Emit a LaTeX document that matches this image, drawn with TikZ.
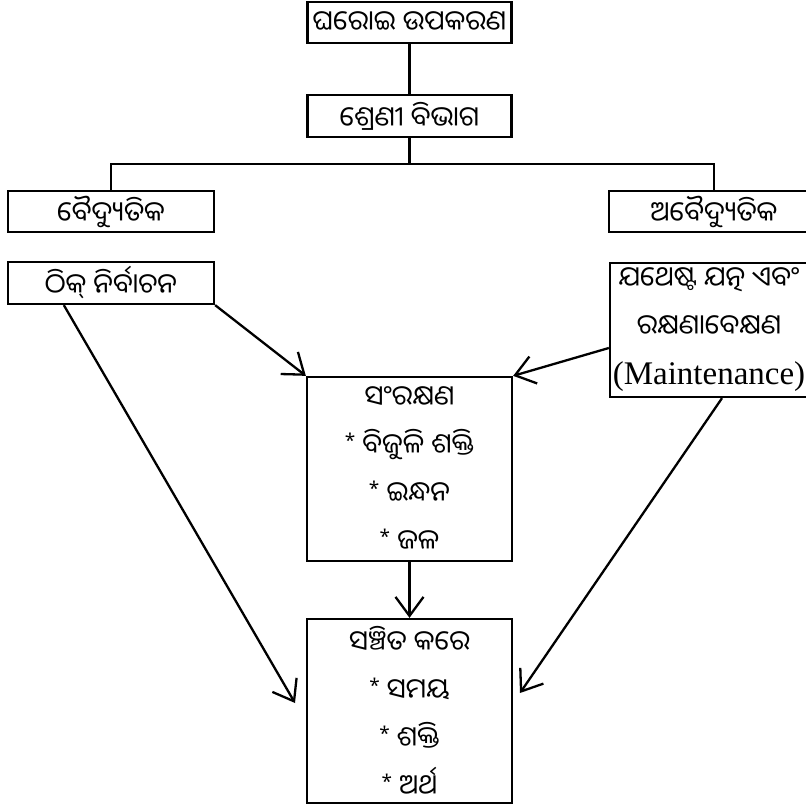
\documentclass[tikz,border=0pt]{standalone}
\usepackage{fontspec}
\setmainfont{Liberation Serif}
\newfontfamily\odia[Script=Oriya]{Noto Sans Oriya UI}
\newfontfamily\symfont{Noto Sans}
\usetikzlibrary{arrows.meta}

\newcommand{\tara}{\raisebox{0.28em}{\symfont\fontsize{19pt}{19pt}\selectfont *}\ }

\begin{document}
\begin{tikzpicture}[x=1pt,y=1pt,
    box/.style={draw, line width=2.3pt, align=center, inner sep=0pt,
        font=\odia\fontsize{27.5pt}{48pt}\selectfont},
    link/.style={line width=2.3pt},
    arrow/.style={line width=2.3pt, -{Straight Barb[length=19pt,width=28pt]}}]
    \useasboundingbox (0,0) rectangle (806,-805);
    \clip (0,0) rectangle (806,-805);
    \node[box, minimum width=204pt, minimum height=41pt] (ghar) at (409.5,-22.5) {ଘରୋଇ ଉପକରଣ};
    \node[box, minimum width=204pt, minimum height=42pt] (sreni) at (409.5,-116) {ଶ୍ରେଣୀ ବିଭାଗ};
    \node[box, minimum width=206pt, minimum height=41pt] (baid) at (111,-211.5) {ବୈଦ୍ୟୁତିକ};
    \node[box, minimum width=210pt, minimum height=41pt] (abaid) at (714,-211.5) {ଅବୈଦ୍ୟୁତିକ};
    \node[box, minimum width=206pt, minimum height=42pt] (thik) at (111,-283) {ଠିକ୍ ନିର୍ବାଚନ};
    \node[box, minimum width=198pt, minimum height=134pt] (jatna) at (709,-330)
        {ଯଥେଷ୍ଟ ଯତ୍ନ ଏବଂ\\ରକ୍ଷଣାବେକ୍ଷଣ\\{\rmfamily\fontsize{33pt}{40pt}\selectfont (Maintenance)}};
    \node[box, minimum width=205pt, minimum height=184pt] (sanr) at (409.5,-469)
        {ସଂରକ୍ଷଣ\\\tara ବିଜୁଳି ଶକ୍ତି\\\tara ଇନ୍ଧନ\\\tara ଜଳ};
    \node[box, minimum width=205pt, minimum height=184pt] (sanc) at (409.5,-711)
        {ସଞ୍ଚିତ କରେ\\\tara ସମୟ\\\tara ଶକ୍ତି\\\tara ଅର୍ଥ};
    \coordinate (lefttip) at (295,-703);
    \coordinate (righttip) at (520,-693);
    \draw[link] (ghar) -- (sreni);
    \draw[link] (sreni.south) -- ++(0,-26) -| (baid.north);
    \draw[link] (sreni.south) -- ++(0,-26) -| (abaid.north);
    \draw[arrow] (thik.south east) -- (sanr.north west);
    \draw[arrow] ([xshift=57pt]thik.south west) -- (lefttip);
    \draw[arrow] ([yshift=-18pt]jatna.west) -- (sanr.north east);
    \draw[arrow] ([xshift=13pt]jatna.south) -- (righttip);
    \draw[arrow] (sanr) -- (sanc);
\end{tikzpicture}
\end{document}
